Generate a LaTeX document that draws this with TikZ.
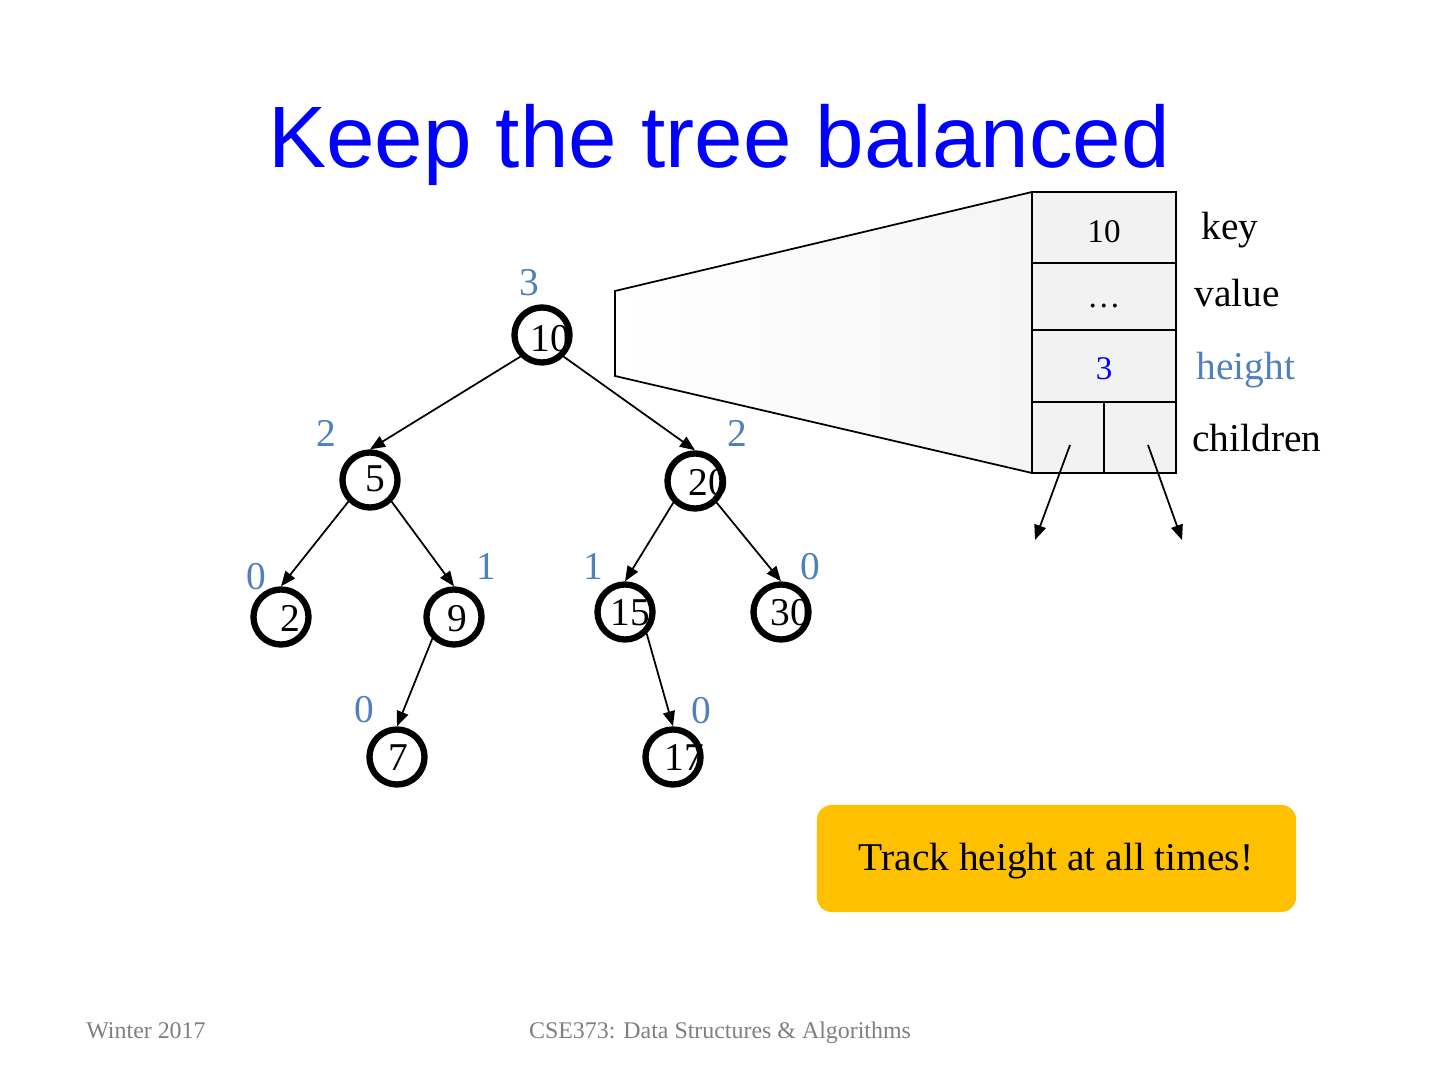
\documentclass[tikz,border=0pt]{standalone}
\usepackage{fontspec}
\setmainfont{Liberation Serif}
\newfontfamily\titlefont{Liberation Sans}
\usetikzlibrary{arrows.meta}
\definecolor{hgtblue}{RGB}{79,129,189}
\definecolor{cellgray}{RGB}{242,242,242}
\definecolor{notegold}{RGB}{255,192,0}
\definecolor{footgray}{RGB}{128,128,128}

\begin{document}
\begin{tikzpicture}[x=0.01cm,y=-0.01cm,
    treenode/.style={circle,draw,line width=1.8pt,minimum size=0.55cm,inner sep=0pt},
    keytext/.style={anchor=base,inner sep=0pt,font=\fontsize{11.2}{13}\selectfont},
    hgt/.style={keytext,text=hgtblue},
    cell/.style={draw,fill=cellgray,line width=0.7pt,inner sep=0pt},
    celltext/.style={anchor=base,inner sep=0pt,font=\fontsize{9.4}{11}\selectfont},
    foot/.style={anchor=base,inner sep=0pt,text=footgray,font=\fontsize{6.8}{8}\selectfont}]
  \useasboundingbox[fill=white] (0,0) rectangle (1440,1080);

  % title
  \node[anchor=base,inner sep=0pt,text=blue,font=\titlefont\fontsize{24.8}{30}\selectfont]
    (title) at (719,168) {Keep the tree balanced};

  % zoom funnel and node record
  \draw[line width=0.5pt,left color=white,right color=black!4]
    (615,291) -- (1032,192) -- (1032,473) -- (615,376) -- cycle;
  \node[cell,minimum width=1.44cm,minimum height=0.71cm] (keycell) at (1104,227.5) {};
  \node[cell,minimum width=1.44cm,minimum height=0.67cm] (valcell) at (1104,296.5) {};
  \node[cell,minimum width=1.44cm,minimum height=0.72cm] (hgtcell) at (1104,366) {};
  \node[cell,minimum width=0.72cm,minimum height=0.71cm] (leftcell) at (1068,437.5) {};
  \node[cell,minimum width=0.72cm,minimum height=0.71cm] (rightcell) at (1140,437.5) {};
  \node[celltext] (keyval) at (1104,243) {10};
  \node[celltext] (valval) at (1104,308) {\dots};
  \node[celltext,text=blue] (hgtval) at (1104,380) {3};
  \node[keytext] (keylbl) at (1230,240) {key};
  \node[keytext] (vallbl) at (1237,307) {value};
  \node[hgt] (hgtlbl) at (1246,380) {height};
  \node[keytext] (kidlbl) at (1257,452) {children};
  \coordinate (lfrom) at (1070,445);
  \coordinate (lto) at (1035,540);
  \coordinate (rfrom) at (1148,445);
  \coordinate (rto) at (1182,540);

  % tree
  \node[treenode] (n10) at (542,335) {};
  \node[treenode] (n5) at (370,480) {};
  \node[treenode] (n20) at (695,481) {};
  \node[treenode] (n2) at (281,617) {};
  \node[treenode] (n9) at (454,617) {};
  \node[treenode] (n15) at (625,612) {};
  \node[treenode] (n30) at (781,612) {};
  \node[treenode] (n7) at (397,757) {};
  \node[treenode] (n17) at (673,757) {};
  \node[keytext] (t10) at (550,352) {10};
  \node[keytext] (t5) at (375,492) {5};
  \node[keytext] (t20) at (708,496) {20};
  \node[keytext] (t2) at (290,632) {2};
  \node[keytext] (t9) at (457,632) {9};
  \node[keytext] (t15) at (630,626) {15};
  \node[keytext] (t30) at (790,626) {30};
  \node[keytext] (t7) at (398,771) {7};
  \node[keytext] (t17) at (684,771) {17};

  % heights
  \node[hgt] (h10) at (529,296) {3};
  \node[hgt] (h5) at (326,447) {2};
  \node[hgt] (h20) at (737,447) {2};
  \node[hgt] (h2) at (256,590) {0};
  \node[hgt] (h9) at (486,580) {1};
  \node[hgt] (h15) at (593,580) {1};
  \node[hgt] (h30) at (810,580) {0};
  \node[hgt] (h7) at (364,722) {0};
  \node[hgt] (h17) at (701,724) {0};

  \begin{scope}[->,>={Triangle[length=1.5mm,width=1.2mm]},line width=0.5pt]
    \draw (n10.south west) to (n5.north);
    \draw (n10.south east) to (n20.north);
    \draw (n5.south west) to (n2.north);
    \draw (n5.south east) to (n9.north);
    \draw (n20.south west) to (n15.north);
    \draw (n20.south east) to (n30.north);
    \draw (n9.south west) to (n7.north);
    \draw (n15.south east) to (n17.north);
    \draw (lfrom) to (lto);
    \draw (rfrom) to (rto);
  \end{scope}

  % note
  \node[fill=notegold,rounded corners=0.15cm,minimum width=4.79cm,minimum height=1.07cm]
    (note) at (1056.5,858.5) {};
  \node[keytext] (notetext) at (1056,870) {Track height at all times!};

  % footer
  \node[foot] (footl) at (146,1038) {Winter 2017};
  \node[foot] (footc) at (720,1038) {CSE373: Data Structures \& Algorithms};
\end{tikzpicture}
\end{document}
